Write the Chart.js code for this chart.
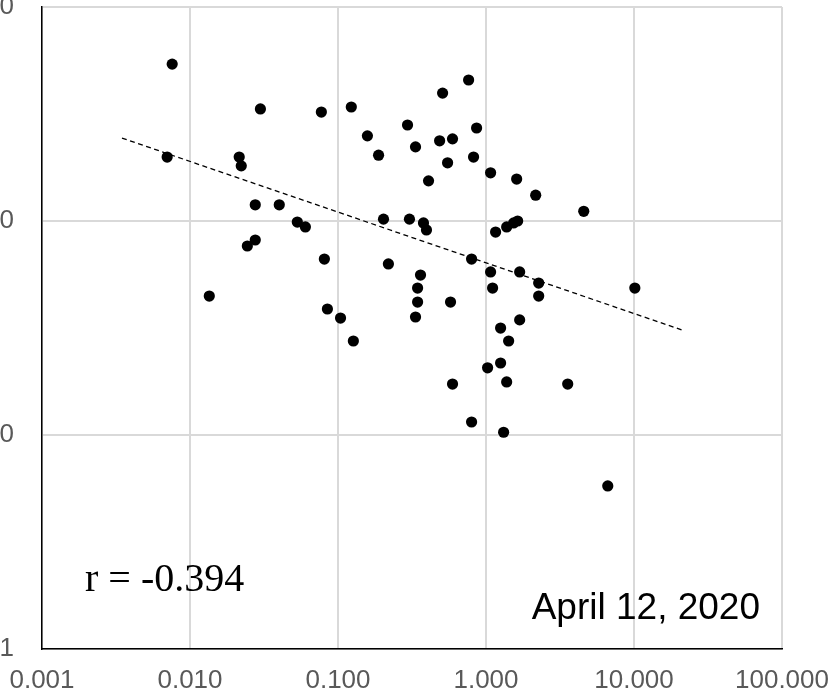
<!DOCTYPE html>
<html>
<head>
<meta charset="utf-8">
<script src="https://cdn.jsdelivr.net/npm/chart.js@4/dist/chart.umd.min.js"></script>
<style>
  html, body { margin: 0; padding: 0; background: #fff; }
  #wrap { width: 834px; height: 692px; overflow: hidden; }
</style>
</head>
<body>
<div id="wrap"><canvas id="chart" width="834" height="692"></canvas></div>
<script>
const xValues = [0.00758, 0.00701, 0.0215, 0.0222, 0.0299, 0.0276, 0.0401, 0.0135, 0.0244, 0.0276,
  0.0531, 0.0602, 0.0772, 0.0809, 0.0848, 0.104, 0.127, 0.123, 0.158, 0.188,
  0.203, 0.219, 0.295, 0.304, 0.334, 0.378, 0.396, 0.409, 0.361, 0.345,
  0.345, 0.334, 0.486, 0.509, 0.550, 0.594, 0.576, 0.594, 0.763, 0.824,
  0.864, 0.799, 0.799, 1.074, 1.074, 1.108, 1.025, 1.161, 1.255, 1.255,
  1.379, 1.537, 1.636, 1.315, 1.422, 1.379, 1.611, 1.688, 1.688, 2.166,
  2.27, 2.27, 3.565, 4.575, 10.13, 6.648];
const yValues = [541, 199, 199, 181, 334, 119, 119, 44.6, 76.4, 81.5,
  98.9, 93.8, 323, 66.4, 38.8, 35.2, 27.5, 341, 250, 203,
  102, 63.0, 281, 102, 222, 97.9, 90.8, 154, 55.9, 48.6,
  41.8, 35.6, 237, 396, 187, 242, 41.8, 17.3, 456, 199,
  272, 66.4, 11.5, 168, 57.8, 48.6, 20.6, 88.8, 31.6, 21.7,
  93.8, 97.9, 100, 10.3, 27.5, 17.7, 157, 57.8, 34.5, 132,
  51.3, 44.6, 17.3, 111, 48.6, 5.78];

// power-law trend line, two ends
const trendX = [0.00347, 21.0];
const trendY = [244, 31.0];

const xTicks = [0.001, 0.01, 0.1, 1, 10, 100];
const xTickLabels = ['0.001', '0.010', '0.100', '1.000', '10.000', '100.000'];
const yTicks = [1, 10, 100, 1000];
const yTickLabels = ['1', '10', '100', '1000'];

const rLabel = 'r = -0.394';
const dateLabel = 'April 12, 2020';

const sans = "'Liberation Sans', Arial, Helvetica, sans-serif";

const notes = {
  id: 'notes',
  afterDraw(chart) {
    const ctx = chart.ctx;
    ctx.save();
    ctx.fillStyle = '#000';
    ctx.textBaseline = 'alphabetic';
    ctx.font = "40px 'Liberation Serif', 'Times New Roman', serif";
    ctx.textAlign = 'left';
    ctx.fillText(rLabel, 85, 591);
    ctx.font = '37px ' + sans;
    ctx.textAlign = 'right';
    ctx.fillText(dateLabel, 760, 619);
    ctx.restore();
  }
};

new Chart(document.getElementById('chart'), {
  type: 'scatter',
  data: {
    datasets: [{
      data: xValues.map((x, i) => ({ x: x, y: yValues[i] })),
      backgroundColor: '#000',
      borderWidth: 0,
      pointRadius: 5.6,
      pointHoverRadius: 5.6
    }, {
      type: 'line',
      data: trendX.map((x, i) => ({ x: x, y: trendY[i] })),
      borderColor: '#000',
      borderWidth: 1.3,
      borderDash: [5, 3.5],
      pointRadius: 0,
      fill: false
    }]
  },
  options: {
    responsive: false,
    animation: false,
    devicePixelRatio: 1,
    layout: { padding: { left: 0, right: 52, top: 7, bottom: 0 } },
    plugins: { legend: { display: false }, tooltip: { enabled: false } },
    scales: {
      x: {
        type: 'logarithmic',
        min: 0.001,
        max: 100,
        afterBuildTicks: s => { s.ticks = xTicks.map(v => ({ value: v })); },
        afterFit: s => { s.height = 43; s.paddingLeft = 0; s.paddingRight = 0; },
        ticks: {
          callback: (v, i) => xTickLabels[i],
          color: '#595959',
          font: { size: 26, family: sans },
          padding: 16,
          maxRotation: 0,
          autoSkip: false
        },
        grid: { color: '#d9d9d9', lineWidth: 2, drawTicks: false },
        border: { color: '#000', width: 1.5 }
      },
      y: {
        type: 'logarithmic',
        min: 1,
        max: 1000,
        afterBuildTicks: s => { s.ticks = yTicks.map(v => ({ value: v })); },
        afterFit: s => { s.width = 42; s.paddingTop = 0; s.paddingBottom = 0; },
        ticks: {
          callback: (v, i) => yTickLabels[i],
          color: '#595959',
          font: { size: 26, family: sans },
          padding: 28,
          autoSkip: false
        },
        grid: { color: '#d9d9d9', lineWidth: 2, drawTicks: false },
        border: { color: '#000', width: 1.5 }
      }
    }
  },
  plugins: [notes]
});
</script>
</body>
</html>
